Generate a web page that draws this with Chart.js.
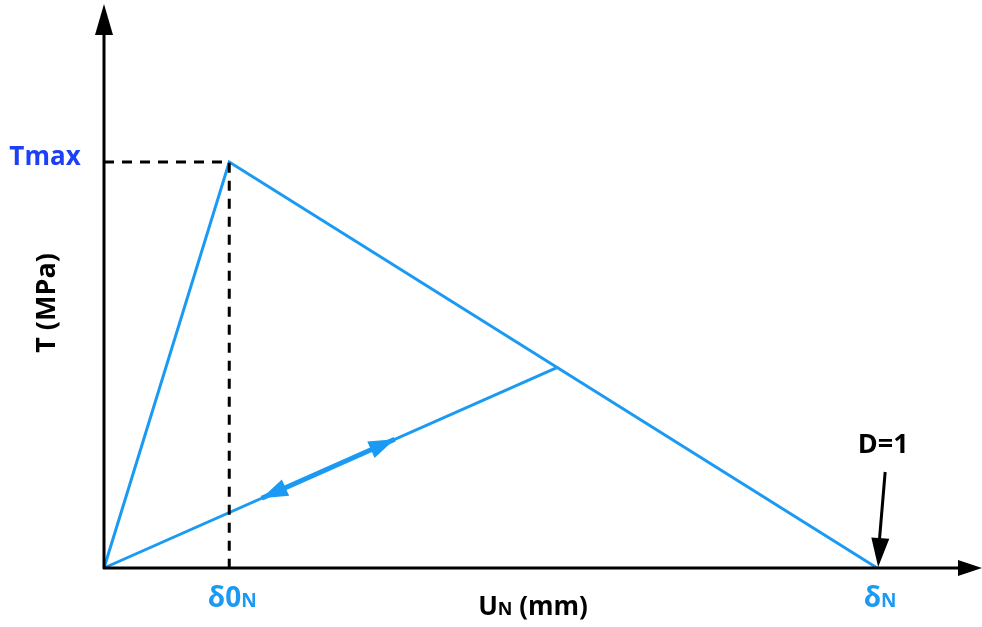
<!DOCTYPE html>
<html>
<head>
<meta charset="utf-8">
<script src="https://cdn.jsdelivr.net/npm/chart.js@4.4.1/dist/chart.umd.min.js"></script>
<style>
  body { margin: 0; background: #fff; }
  #wrap { width: 982px; height: 627px; }
</style>
</head>
<body>
<div id="wrap"><canvas id="chart" width="982" height="627"></canvas></div>
<script>
// Bilinear traction-separation law (schematic values)
const tMax = 1.0;            // peak traction
const delta0 = 1.62;         // separation at damage onset
const deltaN = 10.0;         // separation at full damage (D=1)
const unloadPoint = [5.85, 0.493];        // point on softening branch where unloading starts
const arrowSegment = [[2.04, 0.172], [3.76, 0.317]]; // thick part with the two arrows

const xTickValues = [delta0, deltaN];
const xTickLabels = [['δ0', 'N'], ['δ', 'N']];
const yTickLabels = ['Tmax'];
const xTitle = ['U', 'N', ' (mm)'];
const yTitle = 'T (MPa)';
const damageLabel = 'D=1';

const BLUE = '#1B9AF4';
const DARK_BLUE = '#1D40F5';
const FONT = '"Open Sans", "DejaVu Sans", sans-serif';

function arrowHead(ctx, tipX, tipY, fromX, fromY, len, half) {
    const a = Math.atan2(tipY - fromY, tipX - fromX);
    const bx = tipX - len * Math.cos(a), by = tipY - len * Math.sin(a);
    ctx.beginPath();
    ctx.moveTo(tipX, tipY);
    ctx.lineTo(bx + half * Math.sin(a), by - half * Math.cos(a));
    ctx.lineTo(bx - half * Math.sin(a), by + half * Math.cos(a));
    ctx.closePath();
    ctx.fill();
}

// text with a smaller subscript-like part, centred on x
function mixedText(ctx, parts, sizes, cx, baseY, color) {
    let widths = parts.map((p, i) => { ctx.font = 'bold ' + sizes[i] + 'px ' + FONT; return ctx.measureText(p).width; });
    let total = widths.reduce((s, w) => s + w, 0);
    let x = cx - total / 2;
    ctx.fillStyle = color;
    ctx.textAlign = 'left';
    ctx.textBaseline = 'alphabetic';
    parts.forEach((p, i) => {
        ctx.font = 'bold ' + sizes[i] + 'px ' + FONT;
        ctx.fillText(p, x, baseY);
        x += widths[i];
    });
}

const decorPlugin = {
    id: 'decor',
    afterDatasetsDraw(chart) {
        const ctx = chart.ctx;
        const xs = chart.scales.x, ys = chart.scales.y;
        const ox = xs.getPixelForValue(0), oy = ys.getPixelForValue(0);
        const area = chart.chartArea;
        ctx.save();

        // axes with arrowheads
        ctx.strokeStyle = '#000';
        ctx.fillStyle = '#000';
        ctx.lineWidth = 3;
        ctx.beginPath();
        ctx.moveTo(ox, oy + 1);
        ctx.lineTo(ox, area.top + 28);
        ctx.moveTo(ox - 1, oy);
        ctx.lineTo(area.right - 20, oy);
        ctx.stroke();
        arrowHead(ctx, ox, area.top - 1, ox, oy, 31, 9);
        arrowHead(ctx, area.right + 2, oy, ox, oy, 24, 8);

        // arrows on the unload/reload segment
        const p1 = [xs.getPixelForValue(arrowSegment[0][0]), ys.getPixelForValue(arrowSegment[0][1])];
        const p2 = [xs.getPixelForValue(arrowSegment[1][0]), ys.getPixelForValue(arrowSegment[1][1])];
        ctx.fillStyle = BLUE;
        arrowHead(ctx, p2[0], p2[1], p1[0], p1[1], 26, 9);
        arrowHead(ctx, p1[0], p1[1], p2[0], p2[1], 26, 9);

        // D=1 pointer to deltaN
        const dx = xs.getPixelForValue(deltaN), dy = ys.getPixelForValue(0);
        ctx.strokeStyle = '#000';
        ctx.fillStyle = '#000';
        ctx.lineWidth = 3;
        ctx.beginPath();
        ctx.moveTo(dx + 8, dy - 96);
        ctx.lineTo(dx + 2, dy - 25);
        ctx.stroke();
        arrowHead(ctx, dx + 1, dy - 1, dx + 8, dy - 96, 29, 9);
        ctx.font = 'bold 27px ' + FONT;
        ctx.textAlign = 'center';
        ctx.textBaseline = 'alphabetic';
        ctx.fillText(damageLabel, dx + 6, dy - 115);

        // x tick labels
        xTickValues.forEach((v, i) => {
            const px = xs.getPixelForValue(v);
            mixedText(ctx, xTickLabels[i], [28, 19], px + 3, oy + 39, BLUE);
        });

        // y tick label
        ctx.font = 'bold 26px ' + FONT;
        ctx.fillStyle = DARK_BLUE;
        ctx.textAlign = 'center';
        ctx.textBaseline = 'middle';
        ctx.fillText(yTickLabels[0], 45, ys.getPixelForValue(tMax) - 4);

        // axis titles
        mixedText(ctx, xTitle, [26, 18, 26], (ox + area.right) / 2 - 9, oy + 47, '#000');
        ctx.save();
        ctx.translate(47, 303);
        ctx.rotate(-Math.PI / 2);
        ctx.font = 'bold 27px ' + FONT;
        ctx.fillStyle = '#000';
        ctx.textAlign = 'center';
        ctx.textBaseline = 'middle';
        ctx.fillText(yTitle, 0, 0);
        ctx.restore();

        ctx.restore();
    }
};

const toXY = pts => pts.map(p => ({ x: p[0], y: p[1] }));

new Chart(document.getElementById('chart'), {
    type: 'scatter',
    data: {
        datasets: [
            {
                label: 'guide',
                data: toXY([[0, tMax], [delta0, tMax], [delta0, 0]]),
                borderColor: '#000',
                borderWidth: 3,
                borderDash: [10, 8],
                showLine: true,
                pointRadius: 0
            },
            {
                label: 'envelope',
                data: toXY([[0, 0], [delta0, tMax], [deltaN, 0]]),
                borderColor: BLUE,
                borderWidth: 3,
                showLine: true,
                pointRadius: 0
            },
            {
                label: 'unload',
                data: toXY([[0, 0], unloadPoint]),
                borderColor: BLUE,
                borderWidth: 3,
                showLine: true,
                pointRadius: 0
            },
            {
                label: 'arrows',
                data: toXY(arrowSegment),
                borderColor: BLUE,
                borderWidth: 5,
                showLine: true,
                pointRadius: 0
            }
        ]
    },
    options: {
        responsive: false,
        animation: false,
        clip: false,
        layout: { padding: { left: 104, top: 5, right: 2, bottom: 59 } },
        scales: {
            x: { type: 'linear', min: 0, max: 11.33, display: false },
            y: { type: 'linear', min: 0, max: 1.3867, display: false }
        },
        plugins: {
            legend: { display: false },
            tooltip: { enabled: false }
        }
    },
    plugins: [decorPlugin]
});
</script>
</body>
</html>
